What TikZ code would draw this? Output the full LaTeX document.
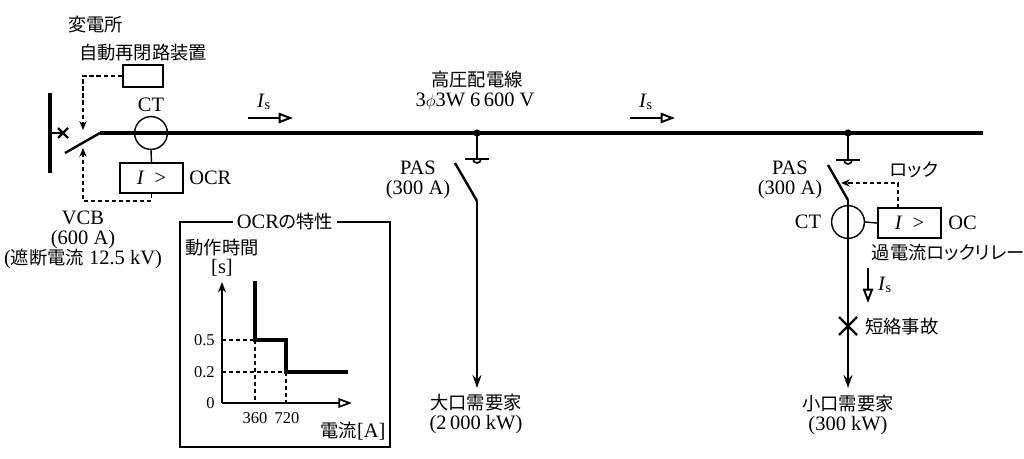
\documentclass[tikz,border=0pt]{standalone}
\usepackage{fontspec}
\setmainfont[Scale=1.12]{Liberation Serif}
\newfontfamily\jpfont[RawFeature=+palt]{Noto Sans CJK JP}
\newcommand{\ja}[1]{{\jpfont #1}}
\usetikzlibrary{arrows.meta}

\begin{document}
\begin{tikzpicture}[x=0.025cm, y=-0.025cm,
    every node/.style={font=\fontsize{13}{14.2}\selectfont, inner sep=0pt},
    tick/.style={font=\fontsize{10.5}{12}\selectfont},
    twoline/.style={align=center},
    feeder/.style={line width=2.4pt},
    wire/.style={line width=1.7pt},
    ctrl/.style={line width=1pt, dash pattern=on 3pt off 2pt},
    relaybox/.style={draw, line width=1.7pt, minimum width=1.575cm, minimum height=0.75cm, inner sep=0pt},
    ctcoil/.style={draw, circle, line width=1pt, minimum size=0.82cm, inner sep=0pt},
    flow/.style={line width=1.6pt, -{Triangle[open, length=3.6mm, width=2.6mm, line width=1.4pt]}},
    load/.style={wire, -{Stealth[length=3.2mm, width=2.2mm]}}]
\useasboundingbox (0,0) rectangle (1024,459);

% substation side
\coordinate (busT) at (50,93) ; % bus.top
\coordinate (busB) at (50,173) ; % bus.bottom
\coordinate (busJ) at (50,133) ;
\coordinate (vcbX) at (63,133) ;
\coordinate (vcbA) at (65,153) ; % VCB blade
\coordinate (vcbB) at (100,133) ;
\coordinate (lineE) at (983,133) ; % feeder end
\coordinate (vcbUp) at (83,130) ;
\coordinate (vcbDn) at (83,148) ;
\coordinate (ocrLoop) at (83,201) ;
\draw[line width=2.4pt] (busT) -- (busB) ;
\draw[wire] (busJ) -- (vcbX) ;
\draw[wire] (vcbX) ++(-5,-5) -- ++(10,10) ; % open mark
\draw[wire] (vcbX) ++(-5,5) -- ++(10,-10) ;
\draw[wire] (vcbA) -- (vcbB) ;
\draw[feeder] (vcbB) -- (lineE) ;
\node[ctcoil] (ct1) at (151,133) {} ;
\node[draw, line width=1.7pt, minimum width=1cm, minimum height=0.55cm, inner sep=0pt] (arc) at (143,76) {} ;
\node[relaybox] (ocr) at (151.5,178) {\textit{I}\enspace>} ;
\draw[line width=1pt] (ct1.south) -- (ocr.north) ;
\draw[ctrl, -{Stealth[length=2.2mm, width=1.8mm]}] (arc.west) -| (vcbUp) ;
\draw[ctrl, -{Stealth[length=2.2mm, width=1.8mm]}] (ocr.south) |- (ocrLoop) -- (vcbDn) ;

\node[anchor=west] (ss) at (68,25) {\ja{変電所}} ;
\node (arcLbl) at (143,53) {\ja{自動再閉路装置}} ;
\node (ct1Lbl) at (151,105) {CT} ;
\node[anchor=west] (ocrLbl) at (189,178) {OCR} ;
\node[twoline] (vcbLbl) at (83,240) {VCB\\(600 A)\\(\ja{遮断電流} 12.5 kV)} ;

% feeder
\draw[flow] (248,118) -- (293,118) ; % Is.1
\node (is1) at (264,102) {\textit{I}\textsubscript{s}} ;
\draw[flow] (630,118) -- (675,118) ; % Is.2
\node (is2) at (646,102) {\textit{I}\textsubscript{s}} ;
\node (lineLbl) at (477,80) {\ja{高圧配電線}} ;
\node (lineV) at (475,101) {3$\phi$3W 6\,600 V} ;

% large customer
\coordinate (j1) at (477,133) ;
\coordinate (g1) at (477,159) ;
\coordinate (pas1A) at (455,163) ;
\coordinate (pas1B) at (477,201) ;
\coordinate (load1) at (477,388) ;
\fill (j1) circle[radius=0.09cm] ;
\draw[wire] (j1) -- (g1) ;
\draw[wire] (g1) ++(-12,0) -- ++(24,0) ;
\draw[line width=1.2pt] (g1) ++(-4,0) arc[start angle=180, end angle=360, radius=0.1cm] ;
\draw[wire] (pas1A) -- (pas1B) ;
\draw[load] (pas1B) -- (load1) ;
\node[twoline] (pas1Lbl) at (418,180) {PAS\\(300 A)} ;
\node[twoline] (cust1) at (476,414) {\ja{大口需要家}\\(2\,000 kW)} ;

% small customer
\coordinate (j2) at (848,133) ;
\coordinate (g2) at (848,160) ;
\coordinate (pas2A) at (828,165) ;
\coordinate (pas2B) at (848,200) ;
\coordinate (load2) at (848,388) ;
\coordinate (lockA) at (898,208) ;
\coordinate (lockB) at (841,183) ;
\coordinate (flt) at (848,326) ;
\fill (j2) circle[radius=0.09cm] ;
\draw[wire] (j2) -- (g2) ;
\draw[wire] (g2) ++(-12,0) -- ++(24,0) ;
\draw[line width=1.2pt] (g2) ++(-4,0) arc[start angle=180, end angle=360, radius=0.1cm] ;
\draw[wire] (pas2A) -- (pas2B) ;
\draw[load] (pas2B) -- (load2) ;
\node[ctcoil] (ct2) at (848,222) {} ;
\node[relaybox] (oc) at (909.5,223) {\textit{I}\enspace>} ;
\draw[line width=1pt] (ct2.east) -- (oc.west) ;
\draw[ctrl, -{Stealth[length=2.2mm, width=1.8mm]}] (lockA) |- (lockB) ;
\draw[flow] (868,268) -- (868,303) ; % Is.3
\draw[wire] (flt) ++(-9,-9) -- ++(18,18) ; % fault
\draw[wire] (flt) ++(-9,9) -- ++(18,-18) ;
\node[twoline] (pas2Lbl) at (790,180) {PAS\\(300 A)} ;
\node (lockLbl) at (914,170) {\ja{ロック}} ;
\node (ct2Lbl) at (808,222) {CT} ;
\node[anchor=west] (ocLbl) at (948,223) {OC} ;
\node (ocName) at (948,253) {\ja{過電流ロックリレー}} ;
\node (is3) at (885,285) {\textit{I}\textsubscript{s}} ;
\node[anchor=west] (fltLbl) at (865,327) {\ja{短絡事故}} ;
\node[twoline] (cust2) at (848,415) {\ja{小口需要家}\\(300 kW)} ;

% OCR characteristic
\draw[line width=1pt] (180,222) rectangle (390,447) ;
\node[fill=white, inner sep=3pt] (chartTtl) at (285,222) {OCR\ja{の特性}} ;
\coordinate (o) at (222,403) ;
\draw[line width=1.3pt, -{Stealth[length=2.6mm, width=2mm]}] (o) -- (222,282) ;
\draw[line width=1.3pt, -{Triangle[open, length=3.4mm, width=2.4mm, line width=1.2pt]}] (o) -- (352,403) ;
\draw[ctrl] (222,340) -- (255,340) ;
\draw[ctrl] (222,372) -- (286,372) ;
\draw[ctrl] (255,340) -- (255,403) ;
\draw[ctrl] (286,372) -- (286,403) ;
\draw[feeder, line join=miter] (255,281) |- (286,340) |- (348,372) ;
\node[tick, anchor=east] (t05) at (215,340) {0.5} ;
\node[tick, anchor=east] (t02) at (215,372) {0.2} ;
\node[tick, anchor=east] (t0) at (215,403) {0} ;
\node[tick] (i360) at (255,418) {360} ;
\node[tick] (i720) at (287,418) {720} ;
\node (yLbl) at (222,248) {\ja{動作時間}} ;
\node (yUnit) at (222,268) {[s]} ;
\node (xLbl) at (353,431) {\ja{電流}[A]} ;
\end{tikzpicture}
\end{document}
